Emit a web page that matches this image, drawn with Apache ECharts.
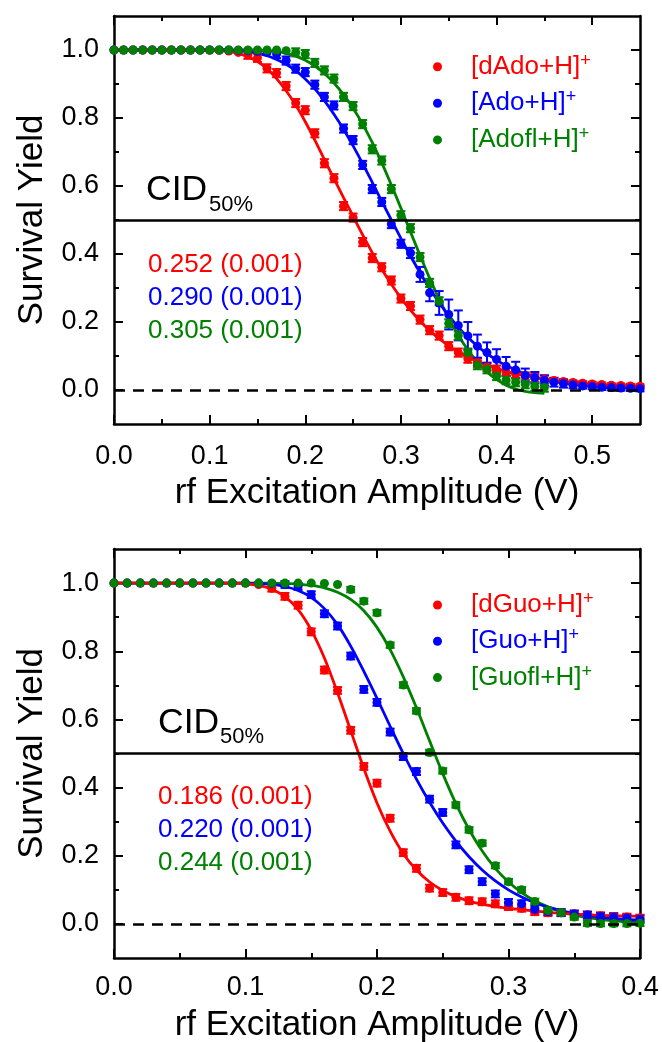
<!DOCTYPE html>
<html><head><meta charset="utf-8">
<script src="https://cdn.jsdelivr.net/npm/echarts@6/dist/echarts.min.js"></script>
<style>html,body{margin:0;padding:0;background:#fff}#c{width:662px;height:1042px}</style>
</head><body><div id="c"></div>
<script>
// ---------- DATA ----------
const xTop = [0.00,0.01,0.02,0.03,0.04,0.05,0.06,0.07,0.08,0.09,0.10,0.11,0.12,0.13,0.14,0.15,0.16,0.17,0.18,0.19,0.20,0.21,0.22,0.23,0.24,0.25,0.26,0.27,0.28,0.29,0.30,0.31,0.32,0.33,0.34,0.35,0.36,0.37,0.38,0.39,0.40,0.41,0.42,0.43,0.44,0.45,0.46,0.47,0.48,0.49,0.50,0.51,0.52,0.53,0.54,0.55];
const xBot = [0.00,0.01,0.02,0.03,0.04,0.05,0.06,0.07,0.08,0.09,0.10,0.11,0.12,0.13,0.14,0.15,0.16,0.17,0.18,0.19,0.20,0.21,0.22,0.23,0.24,0.25,0.26,0.27,0.28,0.29,0.30,0.31,0.32,0.33,0.34,0.35,0.36,0.37,0.38,0.39,0.40];

const namesTop = ['[dAdo+H]+','[Ado+H]+','[Adofl+H]+'];
const namesBot = ['[dGuo+H]+','[Guo+H]+','[Guofl+H]+'];
const cidTop = ['0.252 (0.001)','0.290 (0.001)','0.305 (0.001)'];
const cidBot = ['0.186 (0.001)','0.220 (0.001)','0.244 (0.001)'];
const xTicksTop = [0,0.1,0.2,0.3,0.4,0.5];
const xMinorTop = [0.05,0.15,0.25,0.35,0.45];
const xTicksBot = [0,0.1,0.2,0.3,0.4];
const xMinorBot = [0.05,0.15,0.25,0.35];
const yTicks = [0,0.2,0.4,0.6,0.8,1.0];
const yMinor = [0.1,0.3,0.5,0.7,0.9];

// top panel measured points
const dAdo = [1,1,1,1,1,1,1,1,1,1,1,0.999,0.997,0.993,0.986,0.977,0.946,0.932,0.894,0.844,0.823,0.755,0.667,0.623,0.541,0.507,0.435,0.388,0.361,0.322,0.269,0.247,0.207,0.176,0.160,0.129,0.110,0.092,0.080,0.068,0.060,0.052,0.046,0.040,0.035,0.031,0.028,0.025,0.022,0.020,0.018,0.016,0.014,0.013,0.012,0.011];
const dAdoErr = [0,0,0,0,0,0,0,0,0,0,0,0,0,0,0.012,0.012,0.012,0.012,0.012,0.012,0.012,0.012,0.012,0.012,0.012,0.012,0.012,0.012,0.012,0.012,0.012,0.012,0.012,0.012,0.012,0.012,0.012,0.012,0.012,0.012,0.012,0.012,0.012,0.012,0.012,0.012,0.006,0.006,0.006,0.006,0.006,0.006,0.006,0.006,0.006,0.006];
const Ado = [1,1,1,1,1,1,1,1,1,1,1,1,1,0.999,0.998,0.996,0.993,0.988,0.969,0.945,0.935,0.898,0.862,0.837,0.769,0.735,0.662,0.591,0.553,0.488,0.430,0.403,0.340,0.286,0.256,0.222,0.190,0.159,0.129,0.110,0.090,0.070,0.059,0.043,0.036,0.028,0.023,0.019,0.015,0.012,0.010,0.008,0.007,0.006,0.005,0.004];
const AdoErr = [0,0,0,0,0,0,0,0,0,0,0,0,0,0,0,0,0,0.012,0.012,0.012,0.012,0.012,0.012,0.012,0.012,0.012,0.012,0.012,0.012,0.012,0.012,0.015,0.022,0.025,0.035,0.044,0.044,0.041,0.034,0.030,0.030,0.027,0.024,0.020,0.017,0.015,0.013,0.012,0.010,0.008,0.008,0.008,0.008,0.008,0.008,0.008];
const Adofl = [1,1,1,1,1,1,1,1,1,1,1,1,1,1,1,1,1,1,0.998,0.993,0.988,0.962,0.940,0.916,0.862,0.835,0.782,0.708,0.675,0.591,0.514,0.476,0.391,0.315,0.261,0.196,0.160,0.110,0.073,0.061,0.041,0.029,0.023,0.017,0.010,0.007];
const AdoflErr = [0,0,0,0,0,0,0,0,0,0,0,0,0,0,0,0,0,0,0,0.012,0.012,0.012,0.012,0.012,0.012,0.012,0.012,0.012,0.012,0.012,0.012,0.012,0.012,0.012,0.012,0.012,0.012,0.012,0.012,0.012,0.012,0.012,0.012,0.012,0.012,0.012];
// top panel fitted curves
const dAdoFit = [1,1,1,1,1,1,1,1,1,1,1,0.998,0.995,0.990,0.980,0.966,0.945,0.916,0.880,0.838,0.789,0.735,0.678,0.622,0.566,0.511,0.456,0.404,0.355,0.311,0.271,0.235,0.203,0.175,0.151,0.130,0.112,0.097,0.084,0.073,0.063,0.055,0.048,0.042,0.037,0.032,0.028,0.025,0.022,0.020,0.018,0.016,0.014,0.013,0.012,0.011];
const AdoFit = [1,1,1,1,1,1,1,1,1,1,1,1,1,0.998,0.995,0.990,0.983,0.972,0.958,0.939,0.915,0.886,0.851,0.811,0.767,0.718,0.666,0.611,0.555,0.500,0.446,0.394,0.345,0.299,0.257,0.219,0.185,0.155,0.129,0.107,0.088,0.072,0.059,0.048,0.039,0.031,0.025,0.020,0.016,0.013,0.010,0.008,0.007,0.006,0.005,0.004];
const AdoflFit = [1,1,1,1,1,1,1,1,1,1,1,1,1,1,1,1,0.998,0.995,0.990,0.982,0.970,0.953,0.931,0.903,0.869,0.829,0.782,0.728,0.668,0.603,0.535,0.465,0.396,0.329,0.267,0.211,0.161,0.118,0.082,0.053,0.031,0.014,0.003,-0.004,-0.008,-0.010];

// bottom panel measured points
const dGuo = [1,1,1,1,1,1,1,1,1,1,1,0.996,0.985,0.961,0.935,0.857,0.745,0.685,0.568,0.462,0.413,0.310,0.209,0.163,0.105,0.092,0.078,0.068,0.065,0.059,0.051,0.046,0.036,0.033,0.033,0.029,0.026,0.024,0.022,0.020,0.017];
const dGuoErr = [0,0,0,0,0,0,0,0,0,0,0,0,0.010,0.010,0.010,0.010,0.010,0.010,0.010,0.010,0.010,0.010,0.010,0.010,0.010,0.010,0.010,0.010,0.010,0.010,0.010,0.010,0.010,0.010,0.010,0.010,0.010,0.010,0.010,0.010,0.010];
const Guo = [1,1,1,1,1,1,1,1,1,1,1,1,0.999,0.996,0.990,0.966,0.910,0.874,0.786,0.688,0.650,0.563,0.491,0.447,0.366,0.327,0.232,0.159,0.124,0.088,0.063,0.059,0.043,0.036,0.033,0.029,0.026,0.022,0.020,0.017,0.014];
const GuoErr = [0,0,0,0,0,0,0,0,0,0,0,0,0,0.010,0.010,0.010,0.010,0.010,0.010,0.010,0.010,0.010,0.010,0.010,0.010,0.010,0.010,0.010,0.010,0.010,0.010,0.010,0.010,0.010,0.010,0.010,0.010,0.010,0.010,0.010,0.010];
const Guofl = [1,1,1,1,1,1,1,1,1,1,1,1,1,1,1,1,0.999,0.996,0.981,0.947,0.913,0.818,0.701,0.625,0.503,0.449,0.349,0.276,0.237,0.171,0.124,0.100,0.066,0.039,0.033,0.020,0.002,0.001,0.001,0.001,0.002];
const GuoflErr = [0,0,0,0,0,0,0,0,0,0,0,0,0,0,0,0,0,0,0.008,0.008,0.008,0.008,0.008,0.008,0.008,0.008,0.008,0.008,0.008,0.008,0.008,0.008,0.008,0.008,0.008,0.008,0.008,0.008,0.008,0.008,0.008];
// bottom panel fitted curves
const dGuoFit = [1,1,1,1,1,1,1,1,1,1,0.998,0.993,0.982,0.960,0.922,0.862,0.780,0.678,0.567,0.456,0.355,0.272,0.206,0.158,0.123,0.098,0.080,0.067,0.058,0.051,0.046,0.042,0.038,0.034,0.031,0.029,0.027,0.025,0.024,0.023,0.022];
const GuoFit = [1,1,1,1,1,1,1,1,1,1,1,0.999,0.996,0.990,0.978,0.958,0.925,0.878,0.815,0.741,0.662,0.580,0.500,0.425,0.357,0.296,0.243,0.197,0.158,0.126,0.100,0.079,0.062,0.049,0.039,0.031,0.025,0.020,0.016,0.013,0.011];
const GuoflFit = [1,1,1,1,1,1,1,1,1,1,1,1,1,0.999,0.997,0.993,0.986,0.973,0.952,0.919,0.870,0.805,0.725,0.634,0.537,0.441,0.353,0.277,0.214,0.163,0.123,0.092,0.068,0.050,0.036,0.026,0.019,0.013,0.009,0.006,0.004];

// ---------- STYLE ----------
const FONT = '"Liberation Sans", Arial, Helvetica, sans-serif';
const COLORS = ['#ff0000', '#0000ff', '#008000'];
const BLACK = '#000';

function zip(xs, ys) { return ys.map((y, i) => [xs[i], y]); }
function zip3(xs, ys, es) { return ys.map((y, i) => [xs[i], y, es[i]]); }

function errRender(color) {
  return function (params, api) {
    const x = api.value(0), y = api.value(1), e = api.value(2);
    if (!e) return null;
    const p1 = api.coord([x, y + e]), p2 = api.coord([x, y - e]);
    const hw = 4.5;
    const st = { stroke: color, lineWidth: 2 };
    return { type: 'group', children: [
      { type: 'line', shape: { x1: p1[0], y1: p1[1], x2: p2[0], y2: p2[1] }, style: st },
      { type: 'line', shape: { x1: p1[0] - hw, y1: p1[1], x2: p1[0] + hw, y2: p1[1] }, style: st },
      { type: 'line', shape: { x1: p2[0] - hw, y1: p2[1], x2: p2[0] + hw, y2: p2[1] }, style: st }
    ]};
  };
}

const lineSt = { color: BLACK, width: 2.5 };
const tickSt = { color: BLACK, width: 2 };
const TICK_FS = 27, TITLE_FS = 35;

function makeX(grid, max, majors, minors, nameGap, labelMargin) {
  const base = { type: 'value', gridIndex: grid, min: 0, max: max, splitLine: { show: false }, nameMoveOverlap: false };
  return [
    Object.assign({}, base, { position: 'bottom',
      axisLine: { show: true, onZero: false, lineStyle: lineSt },
      axisTick: { show: true, inside: true, length: 9, lineStyle: tickSt, customValues: majors },
      axisLabel: { show: true, customValues: majors, formatter: v => v.toFixed(1), fontSize: TICK_FS, color: BLACK, fontFamily: FONT, margin: labelMargin },
      name: 'rf Excitation Amplitude (V)', nameLocation: 'middle', nameGap: nameGap,
      nameTextStyle: { fontSize: TITLE_FS, color: BLACK, fontFamily: FONT } }),
    Object.assign({}, base, { position: 'bottom',
      axisLine: { show: false, onZero: false },
      axisTick: { show: true, inside: true, length: 5, lineStyle: tickSt, customValues: minors },
      axisLabel: { show: false } }),
    Object.assign({}, base, { position: 'top',
      axisLine: { show: true, onZero: false, lineStyle: lineSt },
      axisTick: { show: true, inside: true, length: 9, lineStyle: tickSt, customValues: majors },
      axisLabel: { show: false } }),
    Object.assign({}, base, { position: 'top',
      axisLine: { show: false, onZero: false },
      axisTick: { show: true, inside: true, length: 5, lineStyle: tickSt, customValues: minors },
      axisLabel: { show: false } })
  ];
}
function makeY(grid) {
  const base = { type: 'value', gridIndex: grid, min: -0.1, max: 1.1, splitLine: { show: false }, nameMoveOverlap: false };
  return [
    Object.assign({}, base, { position: 'left',
      axisLine: { show: true, onZero: false, lineStyle: lineSt },
      axisTick: { show: true, inside: true, length: 9, lineStyle: tickSt, customValues: yTicks },
      axisLabel: { show: true, customValues: yTicks, formatter: v => v.toFixed(1), fontSize: TICK_FS, color: BLACK, fontFamily: FONT, margin: 15 },
      name: 'Survival Yield', nameLocation: 'middle', nameGap: 64,
      nameTextStyle: { fontSize: TITLE_FS, color: BLACK, fontFamily: FONT } }),
    Object.assign({}, base, { position: 'left',
      axisLine: { show: false, onZero: false },
      axisTick: { show: true, inside: true, length: 5, lineStyle: tickSt, customValues: yMinor },
      axisLabel: { show: false } }),
    Object.assign({}, base, { position: 'right',
      axisLine: { show: true, onZero: false, lineStyle: lineSt },
      axisTick: { show: true, inside: true, length: 9, lineStyle: tickSt, customValues: yTicks },
      axisLabel: { show: false } }),
    Object.assign({}, base, { position: 'right',
      axisLine: { show: false, onZero: false },
      axisTick: { show: true, inside: true, length: 5, lineStyle: tickSt, customValues: yMinor },
      axisLabel: { show: false } })
  ];
}

function panelSeries(axisIdx, xs, names, pts, errs, fits) {
  const s = [];
  [2, 1, 0].forEach(i => {
    const xf = xs.slice(0, fits[i].length);
    const ser = { type: 'line', name: names[i] + ' fit', xAxisIndex: axisIdx, yAxisIndex: axisIdx,
      data: zip(xf, fits[i]), showSymbol: false, symbol: 'none', smooth: 0.3, silent: true, z: 2,
      lineStyle: { color: COLORS[i], width: 2.8 }, itemStyle: { color: COLORS[i] } };
    if (i === 0) {
      ser.markLine = { silent: true, symbol: ['none', 'none'], label: { show: false },
        lineStyle: { color: BLACK, width: 2.5, type: 'solid' },
        emphasis: { disabled: true },
        data: [ { yAxis: 0.5 }, { yAxis: 0, lineStyle: { type: [11, 8], width: 2.5, color: BLACK } } ] };
    }
    s.push(ser);
  });
  [0, 1, 2].forEach(i => {
    const xp = xs.slice(0, pts[i].length);
    s.push({ type: 'custom', name: names[i] + ' err', xAxisIndex: axisIdx, yAxisIndex: axisIdx,
      data: zip3(xp, pts[i], errs[i]), encode: { x: 0, y: 1 }, renderItem: errRender(COLORS[i]), silent: true, z: 3 });
  });
  [0, 1, 2].forEach(i => {
    const xp = xs.slice(0, pts[i].length);
    s.push({ type: 'scatter', name: names[i], xAxisIndex: axisIdx, yAxisIndex: axisIdx,
      data: zip(xp, pts[i]), symbol: 'circle', symbolSize: 9, z: 4,
      itemStyle: { color: COLORS[i], opacity: 1 } });
  });
  return s;
}

const richLegend = {};
['a', 'b', 'c'].forEach((k, i) => {
  richLegend[k] = { color: COLORS[i], fontSize: 26, fontFamily: FONT, lineHeight: 30, padding: [0, 0, 0, 24] };
  richLegend[k + 's'] = { color: COLORS[i], fontSize: 18, fontFamily: FONT, lineHeight: 14, verticalAlign: 'top' };
});
function legendFmt(names) {
  return function (name) {
    const i = names.indexOf(name);
    const k = ['a', 'b', 'c'][i];
    return '{' + k + '|' + name.slice(0, -1) + '}{' + k + 's|+}';
  };
}
function makeLegend(names, top, gap) {
  return { data: names, orient: 'vertical', left: 433, top: top, padding: 0, itemGap: gap,
    itemWidth: 9, itemHeight: 9, icon: 'circle', selectedMode: false,
    formatter: legendFmt(names), textStyle: { rich: richLegend } };
}

function txt(x, y, text, size, color) {
  return { type: 'text', x: x, y: y, silent: true,
    style: { text: text, fontSize: size, fontFamily: FONT, fill: color, align: 'left', verticalAlign: 'middle' } };
}

const graphics = [
  txt(146, 190, 'CID', 35.5, BLACK), txt(209, 205, '50%', 22, BLACK),
  txt(148, 264.5, cidTop[0], 26, COLORS[0]), txt(148, 298, cidTop[1], 26, COLORS[1]), txt(148, 330.5, cidTop[2], 26, COLORS[2]),
  txt(158, 723, 'CID', 35.5, BLACK), txt(220, 737, '50%', 22, BLACK),
  txt(158, 797, cidBot[0], 26, COLORS[0]), txt(158, 830, cidBot[1], 26, COLORS[1]), txt(158, 863, cidBot[2], 26, COLORS[2])
];

const option = {
  animation: false,
  backgroundColor: '#fff',
  textStyle: { fontFamily: FONT },
  grid: [
    { left: 114, top: 16, width: 526, height: 408, outerBoundsMode: 'none', containLabel: false },
    { left: 114, top: 549, width: 526, height: 409, outerBoundsMode: 'none', containLabel: false }
  ],
  xAxis: makeX(0, 0.55, xTicksTop, xMinorTop, 52, 19).concat(makeX(1, 0.4, xTicksBot, xMinorBot, 50, 16.5)),
  yAxis: makeY(0).concat(makeY(1)),
  legend: [ makeLegend(namesTop, 51.7, 8.6), makeLegend(namesBot, 590, 8.3) ],
  graphic: graphics,
  series: panelSeries(0, xTop, namesTop, [dAdo, Ado, Adofl], [dAdoErr, AdoErr, AdoflErr], [dAdoFit, AdoFit, AdoflFit])
    .concat(panelSeries(4, xBot, namesBot, [dGuo, Guo, Guofl], [dGuoErr, GuoErr, GuoflErr], [dGuoFit, GuoFit, GuoflFit]))
};

const chart = echarts.init(document.getElementById('c'), null, { renderer: 'canvas' });
chart.setOption(option);
</script></body></html>
